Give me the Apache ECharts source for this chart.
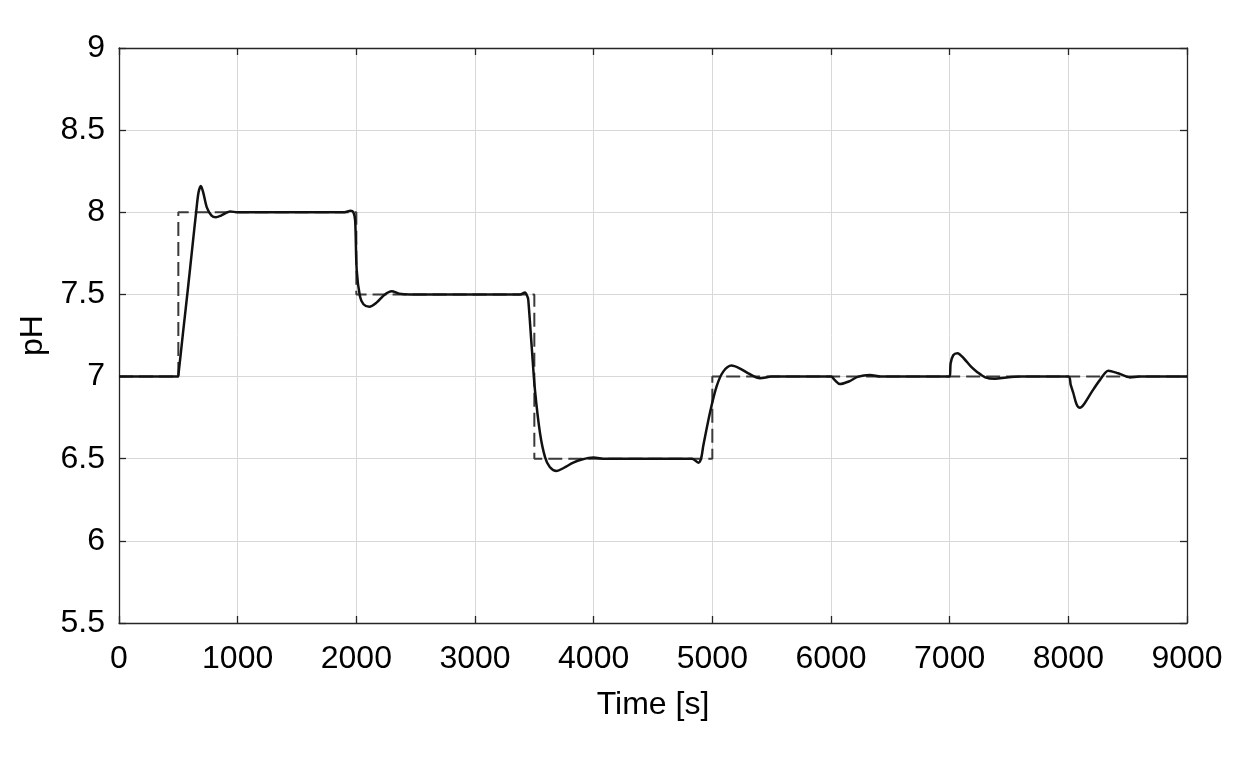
<!DOCTYPE html>
<html>
<head>
<meta charset="utf-8">
<script src="https://cdn.jsdelivr.net/npm/echarts@6/dist/echarts.min.js"></script>
<style>
html,body{margin:0;padding:0;background:#fff;}
#c{width:1240px;height:769px;}
</style>
</head>
<body>
<div id="c"></div>
<script>
// Measured pH response (time [s], pH)
const respTime = [0,495,502,540,580,620,650,670,690,710,740,780,817,860,935,1000,1900,1952,1975,1990,2003,2030,2060,2109,2170,2240,2298,2360,2450,3380,3421,3440,3449,3478,3505,3548,3590,3630,3688,3750,3828,3900,3997,4100,4830,4882,4905,4924,4980,5036,5092,5162,5230,5303,5402,5500,6000,6030,6075,6150,6230,6328,6420,7000,7008,7030,7065,7120,7180,7228,7300,7382,7480,7600,8000,8020,8042,8070,8098,8130,8200,8267,8337,8420,8519,8600,9000];
const respPH   = [7,7,7.02,7.27,7.53,7.8,8.0,8.12,8.16,8.12,8.03,7.98,7.97,7.98,8.005,8.0,8.0,8.01,8.0,7.95,7.65,7.49,7.44,7.425,7.45,7.5,7.52,7.505,7.5,7.5,7.512,7.49,7.466,7.18,6.92,6.655,6.51,6.45,6.425,6.445,6.476,6.495,6.507,6.5,6.5,6.476,6.5,6.58,6.78,6.94,7.03,7.067,7.05,7.02,6.99,7.0,7.0,6.98,6.955,6.97,7.0,7.01,7.0,7.0,7.08,7.13,7.142,7.11,7.06,7.03,6.995,6.986,6.995,7.0,7.0,6.95,6.9,6.83,6.81,6.83,6.91,6.98,7.036,7.02,6.995,7.0,7.0];
// Setpoint (reference) step profile
const spTime = [0,500,500,2000,2000,3500,3500,5000,5000,9000];
const spPH   = [7,7,8,8,7.5,7.5,6.5,6.5,7,7];
// Axis ticks
const xTicks = {min:0, max:9000, interval:1000};
const yTicks = {min:5.5, max:9, interval:0.5};

const FONT = 'Liberation Sans, Arial, Helvetica, sans-serif';
const axisCol = '#262626';
const chart = echarts.init(document.getElementById('c'), null, {renderer:'canvas'});

const baseX = {type:'value', min:xTicks.min, max:xTicks.max, interval:xTicks.interval};
const baseY = {type:'value', min:yTicks.min, max:yTicks.max, interval:yTicks.interval};

chart.setOption({
  animation:false,
  backgroundColor:'#fff',
  grid:{left:119, right:53, top:48, bottom:146, containLabel:false},
  xAxis:[
    Object.assign({}, baseX, {
      position:'bottom',
      name:'Time [s]', nameLocation:'middle', nameGap:66,
      nameTextStyle:{fontFamily:FONT, fontSize:32, color:'#000'},
      axisLine:{show:true, onZero:false, lineStyle:{color:axisCol, width:1.3}},
      axisTick:{show:true, inside:true, length:7, lineStyle:{color:axisCol, width:1.3}},
      axisLabel:{fontFamily:FONT, fontSize:32, color:'#000', margin:20,
        formatter:v=>String(v)},
      splitLine:{show:true, lineStyle:{color:'#d8d8d8', width:1}}
    }),
    Object.assign({}, baseX, {
      position:'top',
      axisLine:{show:true, onZero:false, lineStyle:{color:axisCol, width:1.3}},
      axisTick:{show:true, inside:true, length:7, lineStyle:{color:axisCol, width:1.3}},
      axisLabel:{show:false},
      splitLine:{show:false}
    })
  ],
  yAxis:[
    Object.assign({}, baseY, {
      position:'left',
      name:'pH', nameLocation:'middle', nameGap:66, nameRotate:90,
      nameTextStyle:{fontFamily:FONT, fontSize:32, color:'#000'},
      axisLine:{show:true, onZero:false, lineStyle:{color:axisCol, width:1.3}},
      axisTick:{show:true, inside:true, length:7, lineStyle:{color:axisCol, width:1.3}},
      axisLabel:{fontFamily:FONT, fontSize:32, color:'#000', margin:14,
        formatter:v=>String(+v.toFixed(1))},
      splitLine:{show:true, lineStyle:{color:'#d8d8d8', width:1}}
    }),
    Object.assign({}, baseY, {
      position:'right',
      axisLine:{show:true, onZero:false, lineStyle:{color:axisCol, width:1.3}},
      axisTick:{show:true, inside:true, length:7, lineStyle:{color:axisCol, width:1.3}},
      axisLabel:{show:false},
      splitLine:{show:false}
    })
  ],
  series:[
    {
      name:'Setpoint', type:'line', xAxisIndex:0, yAxisIndex:0,
      data: spTime.map((t,i)=>[t, spPH[i]]),
      showSymbol:false, smooth:false,
      lineStyle:{color:'#3a3a3a', width:2, type:[14,6]},
      z:2
    },
    {
      name:'pH', type:'line', xAxisIndex:0, yAxisIndex:0,
      data: respTime.map((t,i)=>[t, respPH[i]]),
      showSymbol:false, smooth:0.3,
      lineStyle:{color:'#111', width:2.5},
      z:3
    }
  ]
});
</script>
</body>
</html>
